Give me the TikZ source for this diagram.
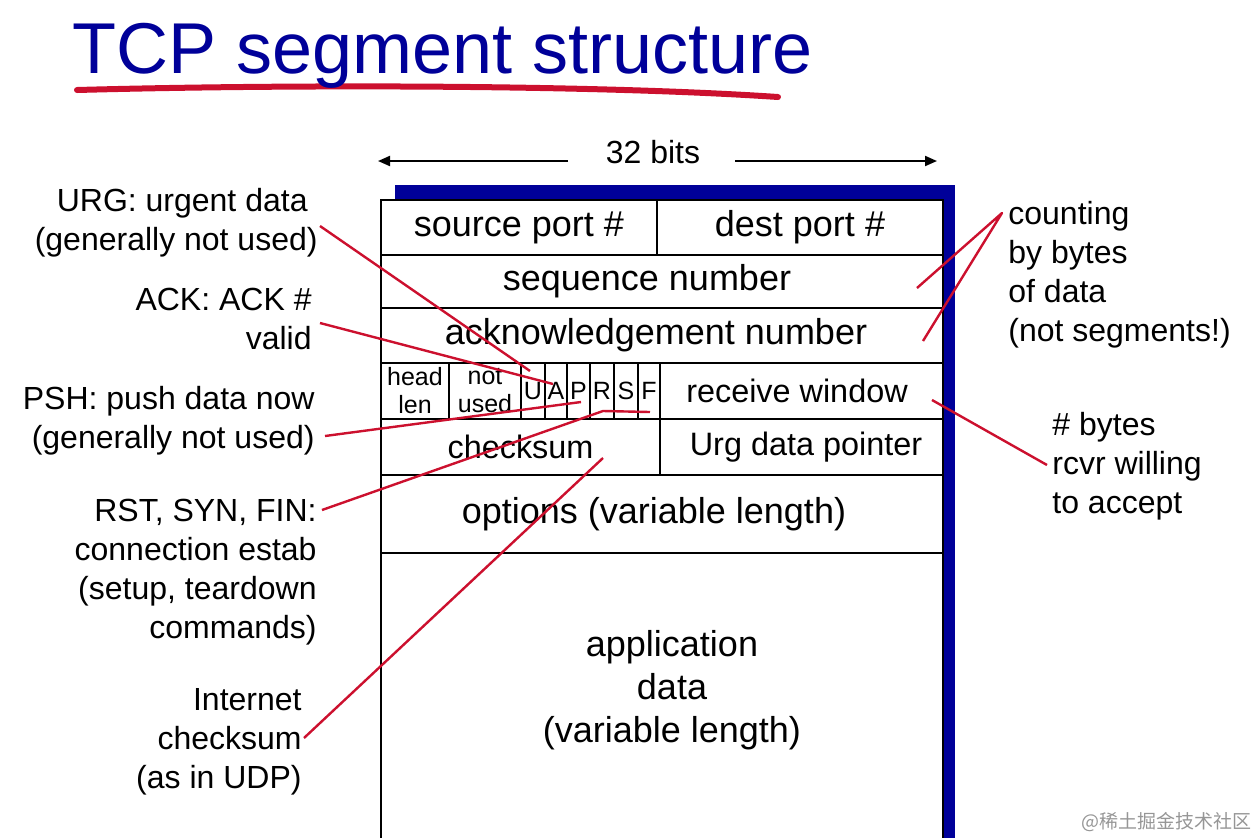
\documentclass[tikz,border=0pt]{standalone}
\usepackage{fontspec}
\setmainfont{Liberation Sans}
\newfontfamily\cjkfont{Noto Sans CJK SC}
\usetikzlibrary{arrows.meta}
\definecolor{tcpblue}{RGB}{0,0,153}
\definecolor{tcpred}{RGB}{204,16,46}
\definecolor{wmgray}{RGB}{150,150,150}
\begin{document}
\begin{tikzpicture}[x=0.5pt,y=-0.5pt,
  cell/.style={draw=black, line width=1pt, fill=white, inner sep=0pt, font=\fontsize{18}{21}\selectfont},
  cellsm/.style={cell, font=\fontsize{16.2}{19}\selectfont},
  flag/.style={cell, font=\fontsize{12.5}{14}\selectfont, align=center, minimum height=28pt},
  lbl/.style={inner sep=0pt, font=\fontsize{16}{19.5}\selectfont},
  lbll/.style={lbl, align=right, anchor=north east},
  lblr/.style={lbl, align=left, anchor=north west},
  ptr/.style={draw=tcpred, line width=1.2pt, line join=round},
  dimarrow/.style={draw=black, line width=1pt, -{Triangle[length=6pt,width=5pt]}}]
\useasboundingbox (0,0) rectangle (1260,837);
\clip (0,0) rectangle (1260,837);
% title with hand-drawn underline
\draw[tcpred, line width=3pt, line cap=round] (77,90) .. controls (300,84) and (600,85) .. (778,97);
\node[anchor=base west, inner sep=0pt, text=tcpblue, font=\fontsize{36}{40}\selectfont] (title) at (72,73) {TCP segment structure};
% width arrows
\node[lbl] (bits) at (653,152) {32 bits};
\coordinate (aL1) at (568,161);
\coordinate (aL2) at (378,161);
\coordinate (aR1) at (735,161);
\coordinate (aR2) at (937,161);
\draw[dimarrow] (aL1) -- (aL2);
\draw[dimarrow] (aR1) -- (aR2);
% segment frame
\fill[tcpblue] (395,185) rectangle (955,860);
\draw[line width=1pt, fill=white] (381,200) rectangle (943,860);
% row 1
\node[cell, minimum width=138pt, minimum height=27.5pt] (src) at (519,227.5) {source port \#};
\node[cell, minimum width=143pt, minimum height=27.5pt] (dst) at (800,227.5) {dest port \#};
% row 2, 3
\node[cell, minimum width=281pt, minimum height=26.5pt] (seq) at (662,281.5) {sequence number\hspace*{15pt}};
\node[cell, minimum width=281pt, minimum height=27.5pt] (ack) at (662,335.5) {acknowledgement number\hspace*{6pt}};
% row 4
\node[flag, minimum width=34pt] (hl) at (415,391) {head\\len};
\node[flag, minimum width=36pt] (nu) at (485,391) {not\\used};
\node[flag, minimum width=12pt] (fU) at (533,391) {U};
\node[flag, minimum width=11pt] (fA) at (556,391) {A};
\node[flag, minimum width=11.5pt] (fP) at (578.5,391) {P};
\node[flag, minimum width=12pt] (fR) at (602,391) {R};
\node[flag, minimum width=12pt] (fS) at (626,391) {S};
\node[flag, minimum width=11pt] (fF) at (649,391) {F};
\node[cellsm, minimum width=141.5pt, minimum height=28pt] (rw) at (801.5,391) {receive window\hspace*{4.5pt}};
% row 5
\node[cellsm, minimum width=139.5pt, minimum height=28pt] (ck) at (520.5,447) {checksum};
\node[cellsm, minimum width=141.5pt, minimum height=28pt] (up) at (801.5,447) {\hspace*{4.5pt}Urg data pointer};
% row 6
\node[cell, minimum width=281pt, minimum height=39pt] (opt) at (662,514) {options (variable length)\hspace*{8pt}};
% data
\node[inner sep=0pt, align=center, font=\fontsize{18}{21.5}\selectfont] (app) at (672,690) {application\\data\\(variable length)};
% left labels
\node[lbll] (urg) at (318,188) {URG: urgent data\hspace*{5pt}\\(generally not used)};
\node[lbll] (ackl) at (312,288) {ACK: ACK \#\\valid};
\node[lbll] (psh) at (315,386) {PSH: push data now\\(generally not used)};
\node[lbll] (rst) at (317,499) {RST, SYN, FIN:\\connection estab\\(setup, teardown\\commands)};
\node[lbll] (ics) at (302,688) {Internet\\checksum\\(as in UDP)};
% right labels
\node[lblr] (cnt) at (1008,201) {counting\\by bytes\\of data\\(not segments!)};
\node[lblr] (byt) at (1052,412) {\# bytes\\rcvr willing\\to accept};
% pointer ends
\coordinate (pU0) at (320,226);   \coordinate (pU1) at (530,371);
\coordinate (pA0) at (320,323);   \coordinate (pA1) at (553,384);
\coordinate (pP0) at (325,436);   \coordinate (pP1) at (581,402);
\coordinate (pR0) at (322,510);   \coordinate (pR1) at (603,411);  \coordinate (pR2) at (650,412);
\coordinate (pI0) at (304,738);   \coordinate (pI1) at (603,458);
\coordinate (pC0) at (1002,213);  \coordinate (pC1) at (917,288);  \coordinate (pC2) at (923,341);
\coordinate (pB0) at (1047,465);  \coordinate (pB1) at (932,400);
% pointers
\draw[ptr] (pU0) -- (pU1);
\draw[ptr] (pA0) -- (pA1);
\draw[ptr] (pP0) -- (pP1);
\draw[ptr] (pR0) -- (pR1) -- (pR2);
\draw[ptr] (pI0) -- (pI1);
\draw[ptr] (pC1) -- (pC0) -- (pC2);
\draw[ptr] (pB0) -- (pB1);
% watermark
\node[anchor=base east, inner sep=0pt, text=wmgray, font=\cjkfont\fontsize{9.5}{11}\selectfont] (wm) at (1252,828) {@稀土掘金技术社区};
\end{tikzpicture}
\end{document}
